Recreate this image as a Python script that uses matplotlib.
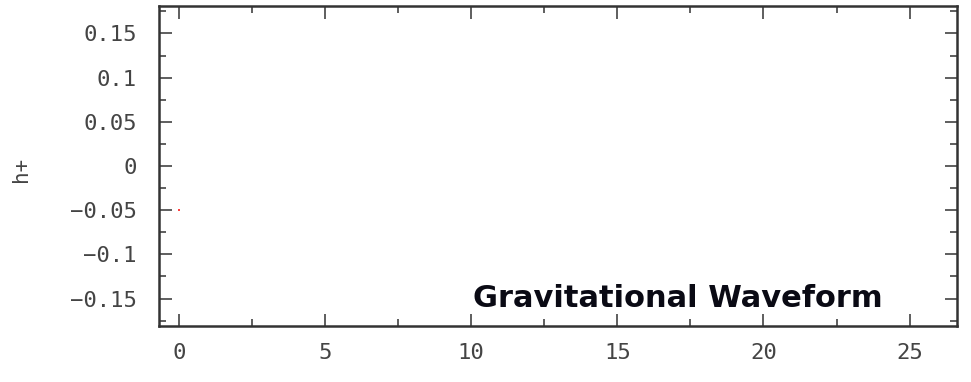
import matplotlib
matplotlib.use('Agg')
import matplotlib.pyplot as plt
from matplotlib.ticker import MultipleLocator

# the waveform has only one sample so far
t = [0.0]
h_plus = [-0.05]

x_ticks = [0, 5, 10, 15, 20, 25]
y_ticks = [-0.15, -0.1, -0.05, 0, 0.05, 0.1, 0.15]
y_labels = ['\u22120.15', '\u22120.1', '\u22120.05', '0', '0.05', '0.1', '0.15']

mono = 'DejaVu Sans Mono'
grey = '#444444'

fig = plt.figure(figsize=(9.71, 3.82), dpi=100)
ax = fig.add_axes([159/971, 1-326/382, (957-159)/971, (326-6)/382])

ax.plot(t, h_plus, 's', color='#ff4040', markersize=1.5, markeredgewidth=0)

ax.set_xlim(-0.68, 26.62)
ax.set_ylim(-0.181, 0.181)
ax.set_xticks(x_ticks)
ax.set_yticks(y_ticks)
ax.set_yticklabels(y_labels)
ax.xaxis.set_minor_locator(MultipleLocator(2.5))
ax.yaxis.set_minor_locator(MultipleLocator(0.025))

ax.tick_params(which='both', direction='in', top=True, right=True, colors='#333333',
               labelcolor=grey, width=1.1)
ax.tick_params(which='major', length=9)
ax.tick_params(which='minor', length=5)
ax.tick_params(axis='x', pad=12)
ax.tick_params(axis='y', pad=16)
for lab in ax.get_xticklabels() + ax.get_yticklabels():
    lab.set_family(mono)
    lab.set_fontsize(16)

for s in ax.spines.values():
    s.set_linewidth(1.8)
    s.set_color('#333333')

ax.set_ylabel('h+', family=mono, fontsize=15, color=grey)
ax.yaxis.set_label_coords(-0.161, 0.49)

ax.text(0.907, 0.059, 'Gravitational Waveform', transform=ax.transAxes,
        ha='right', va='baseline', fontsize=22, fontweight='bold',
        family='DejaVu Sans', color='#0a0a14')

fig.savefig('out.png', dpi=100)
